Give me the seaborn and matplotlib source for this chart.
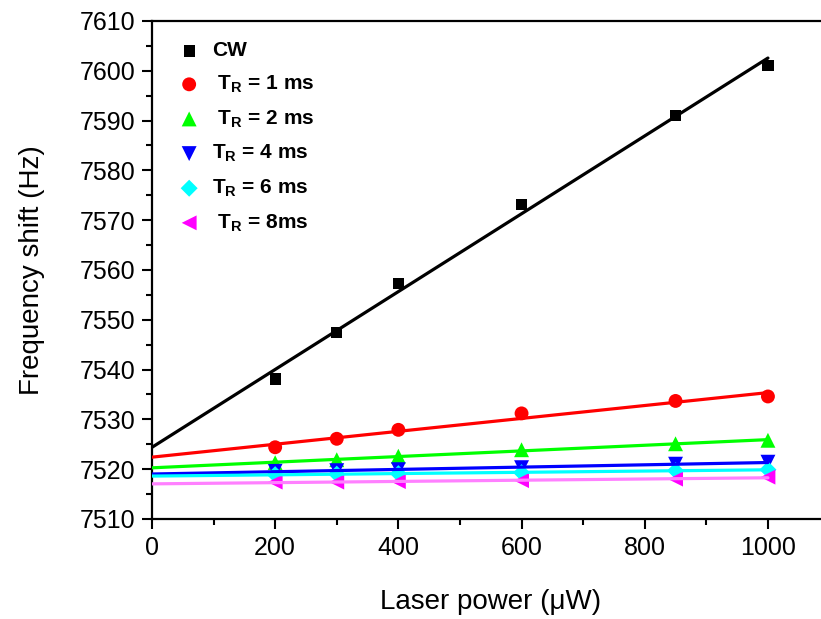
import numpy as np
import pandas as pd
import matplotlib
matplotlib.use("Agg")
import matplotlib.pyplot as plt
import seaborn as sns

# ─────────────────────────────────────────────
# DATA
# ─────────────────────────────────────────────
power = [200, 300, 400, 600, 850, 1000]          # laser power (uW)
cw    = [7538.1, 7547.5, 7557.3, 7573.2, 7591.0, 7601.1]
tr1   = [7524.4, 7526.1, 7527.9, 7531.2, 7533.7, 7534.6]
tr2   = [7521.3, 7521.9, 7522.6, 7523.9, 7525.1, 7525.8]
tr4   = [7519.6, 7519.7, 7519.9, 7520.3, 7521.0, 7521.4]
tr6   = [7518.9, 7519.0, 7519.1, 7519.3, 7519.7, 7519.9]
tr8   = [7517.4, 7517.4, 7517.5, 7517.7, 7518.0, 7518.4]

labels = ["CW",
          r" $\mathbf{T_R}$ = 1 ms",
          r" $\mathbf{T_R}$ = 2 ms",
          r"$\mathbf{T_R}$ = 4 ms",
          r"$\mathbf{T_R}$ = 6 ms",
          r" $\mathbf{T_R}$ = 8ms"]
series = [cw, tr1, tr2, tr4, tr6, tr8]

# styles
marker_colors = ["#000000", "#ff0000", "#00ff00", "#0000ff", "#00ffff", "#ff00ff"]
line_colors   = ["#000000", "#ff0000", "#00ff00", "#0000ff", "#00ffff", "#ff80ff"]
markers = ["s", "o", "^", "v", "D", "<"]
sizes   = [65, 100, 115, 115, 75, 115]

# ─────────────────────────────────────────────
# PLOT
# ─────────────────────────────────────────────
sns.set_style("ticks")
plt.rcParams["font.family"] = ["Liberation Sans", "DejaVu Sans"]
plt.rcParams["mathtext.fontset"] = "custom"
plt.rcParams["mathtext.rm"] = "Liberation Sans"
plt.rcParams["mathtext.bf"] = "Liberation Sans:bold"
plt.rcParams["mathtext.it"] = "Liberation Sans:italic"
for key in ["text.color", "axes.labelcolor", "xtick.color", "ytick.color", "axes.edgecolor"]:
    plt.rcParams[key] = "black"

fig = plt.figure(figsize=(8.21, 6.19), dpi=100)
ax = fig.add_axes([0.1851, 0.1616, 0.8253, 0.8045])

fit_x = np.array([0, max(power)])
for lab, vals, mc, lc, mk, sz in zip(labels, series, marker_colors, line_colors, markers, sizes):
    df = pd.DataFrame({"power": power, "shift": vals})
    sns.scatterplot(data=df, x="power", y="shift", marker=mk, s=sz, color=mc,
                    edgecolor="none", linewidth=0, label=lab, ax=ax, zorder=2)
    slope, icpt = np.polyfit(power, vals, 1)
    fit = pd.DataFrame({"power": fit_x, "shift": icpt + slope * fit_x})
    sns.lineplot(data=fit, x="power", y="shift", color=lc, linewidth=2.3,
                 legend=False, ax=ax, zorder=3)

ax.set_xlim(0, 1100)
ax.set_ylim(7510, 7610)
ax.set_xticks(np.arange(0, 1001, 200))
ax.set_xticks(np.arange(100, 1101, 200), minor=True)
ax.set_yticks(np.arange(7510, 7611, 10))
ax.set_yticks(np.arange(7515, 7610, 10), minor=True)
ax.tick_params(axis="both", which="major", direction="out", length=7, width=1.5,
               labelsize=18, pad=5)
ax.tick_params(axis="both", which="minor", direction="out", length=4, width=1.5)
ax.tick_params(top=False, right=False, which="both")
for sp in ax.spines.values():
    sp.set_linewidth(1.6)

ax.set_xlabel("Laser power (\u03bcW)", fontsize=20, labelpad=21)
ax.set_ylabel("Frequency shift (Hz)", fontsize=20, labelpad=25)

leg = ax.legend(loc="upper left", bbox_to_anchor=(0.018, 0.984), frameon=False,
                prop={"weight": "bold", "size": 15}, handlelength=1.2,
                handletextpad=0.5, labelspacing=0.64, borderaxespad=0.2)

fig.savefig("out.png", dpi=100)
